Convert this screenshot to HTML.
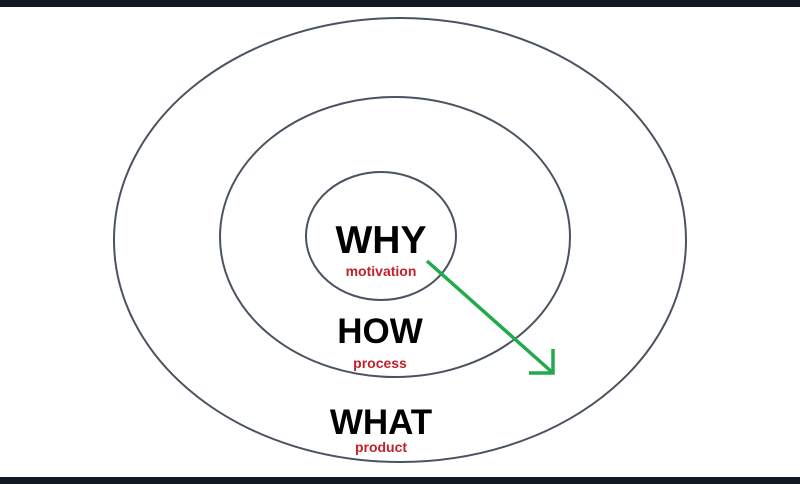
<!DOCTYPE html>
<html><head><style>
body{margin:0;width:800px;height:484px;overflow:hidden;background:#fff}
</style></head><body>
<svg width="800" height="484" xmlns="http://www.w3.org/2000/svg" style="display:block">
<rect x="0" y="0" width="800" height="7" fill="#121922"/>
<rect x="0" y="477" width="800" height="7" fill="#121922"/>
<g fill="none" stroke="#4a5360" stroke-width="2">
<ellipse cx="400" cy="240" rx="286" ry="222"/>
<ellipse cx="395" cy="237" rx="175" ry="140"/>
<ellipse cx="381" cy="236" rx="75" ry="64"/>
</g>
<g font-family="Liberation Sans, sans-serif" font-weight="bold" text-anchor="middle">
<text x="381" y="253" font-size="39" fill="#000">WHY</text>
<text x="381" y="276" font-size="14" fill="#c0222a">motivation</text>
<text x="380" y="343" font-size="35" fill="#000">HOW</text>
<text x="380" y="368" font-size="14" fill="#c0222a">process</text>
<text x="381" y="434" font-size="35" fill="#000">WHAT</text>
<text x="381" y="452" font-size="14" fill="#c0222a">product</text>
</g>
<g stroke="#22aa4c" stroke-width="3.5" fill="none">
<line x1="427" y1="261" x2="553" y2="373"/>
<polyline points="553,349 553,373 529,373"/>
</g>
</svg>
</body></html>
